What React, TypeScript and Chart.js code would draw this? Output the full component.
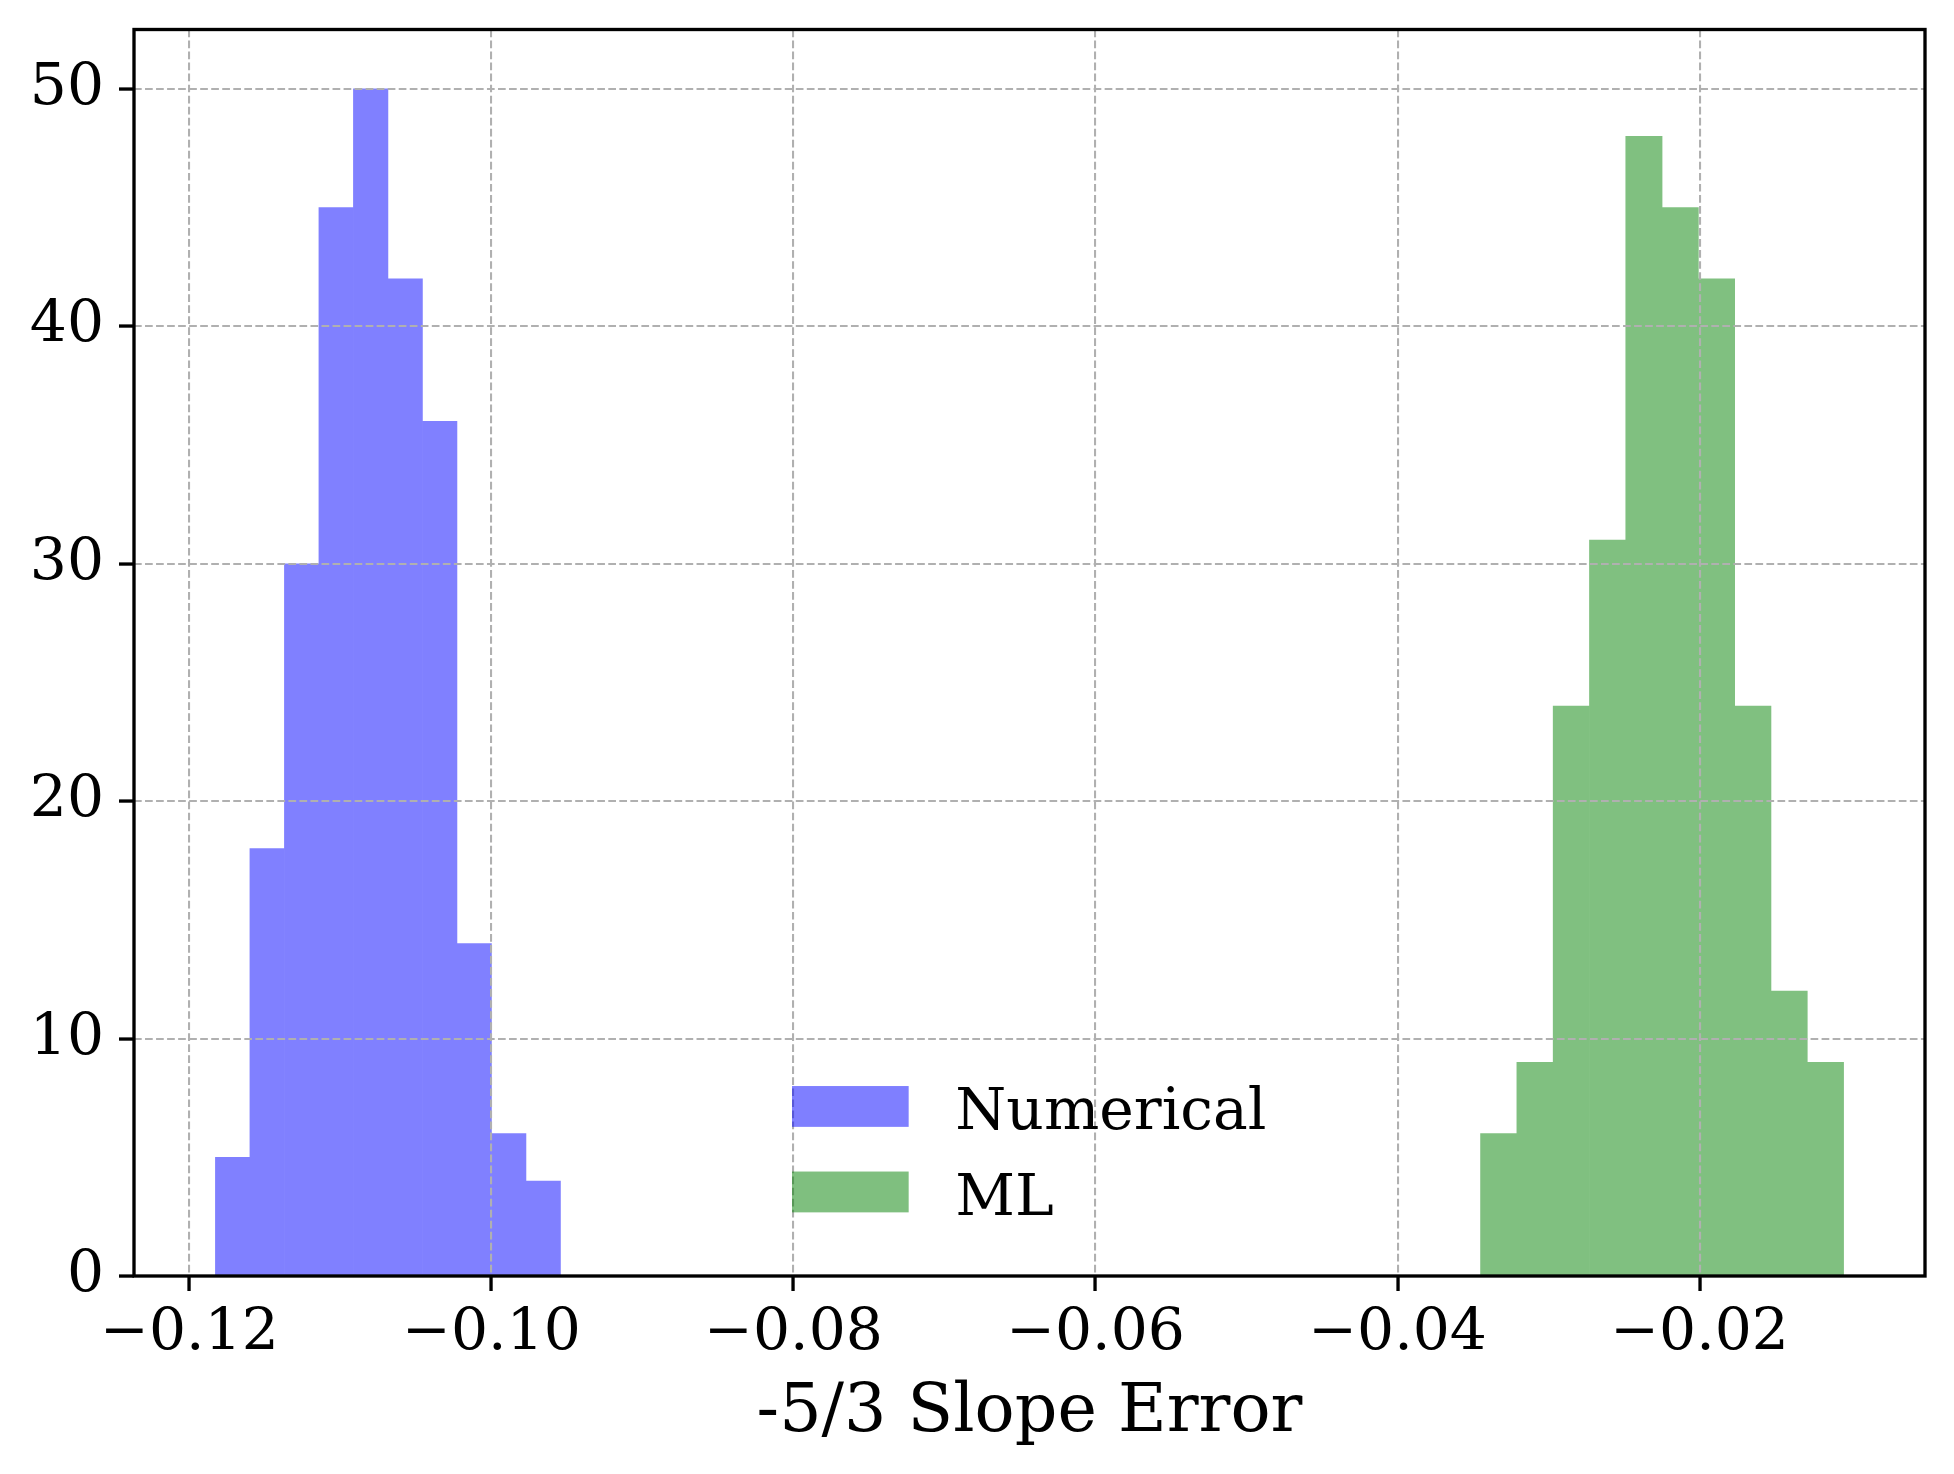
import { useEffect, useRef } from "react";
import { Chart, registerables, type ChartConfiguration, type Plugin } from "chart.js";

Chart.register(...registerables);

// Bin edges and counts.
const numericalEdges = [
  -0.118278, -0.115993, -0.113708, -0.111424, -0.109139, -0.106854,
  -0.104569, -0.102284, -0.1, -0.097715, -0.09543,
];
const numericalCounts = [5, 18, 30, 45, 50, 42, 36, 14, 6, 4];

const mlEdges = [
  -0.034503, -0.032099, -0.029695, -0.027291, -0.024887, -0.022484,
  -0.02008, -0.017676, -0.015272, -0.012868, -0.010464,
];
const mlCounts = [6, 9, 24, 31, 48, 45, 42, 24, 12, 9];

const seriesLabels = ["Numerical", "ML"];
const xRange = [-0.123669, -0.005073];
const yRange = [0, 52.5];
const xTickStep = 0.02;
const yTickStep = 10;
const xTitle = "-5/3 Slope Error";

const W = 1954;
const H = 1474;
const FONT = '"DejaVu Serif", "Liberation Serif", serif';
const TICK_FS = 58.33;
const TITLE_FS = 66.67;

// blue / green at alpha 0.5 over white; bars are drawn flat so adjacent
// bins show no antialiasing seams, the legend keeps the translucent version
const barColors = ["#8080ff", "#80c080"];
const legendColors = ["rgba(0, 0, 255, 0.5)", "rgba(0, 128, 0, 0.5)"];

function toBars(edges: number[], counts: number[]) {
  return counts.map((c, i) => ({ x: (edges[i] + edges[i + 1]) / 2, y: c }));
}

function fmtX(v: number) {
  return (v < 0 ? "\u2212" : "") + Math.abs(v).toFixed(2);
}

// four spines on top, like matplotlib
const spinesPlugin: Plugin<"bar"> = {
  id: "spines",
  afterDraw(chart) {
    const { ctx, chartArea: a } = chart;
    ctx.save();
    ctx.strokeStyle = "#000";
    ctx.lineWidth = 3.33;
    ctx.lineJoin = "miter";
    ctx.strokeRect(a.left, a.top, a.right - a.left, a.bottom - a.top);
    ctx.restore();
  },
};

// frameless legend sitting inside the axes
const legendPlugin: Plugin<"bar"> = {
  id: "innerLegend",
  afterDraw(chart) {
    const { ctx, chartArea: a } = chart;
    const x0 = a.left + 0.3674 * (a.right - a.left);
    let y = a.top + 0.8476 * (a.bottom - a.top);
    ctx.save();
    ctx.font = `${TICK_FS}px ${FONT}`;
    ctx.textBaseline = "alphabetic";
    ctx.textAlign = "left";
    chart.data.datasets.forEach((ds, i) => {
      ctx.fillStyle = legendColors[i];
      ctx.fillRect(x0, y, 2 * TICK_FS, 0.7 * TICK_FS);
      ctx.fillStyle = "#000";
      ctx.fillText(String(ds.label), x0 + 2.8 * TICK_FS, y + 43);
      y += 85.5;
    });
    ctx.restore();
  },
};

const hiddenX = {
  type: "linear" as const,
  display: false,
  min: xRange[0],
  max: xRange[1],
  offset: false,
  grid: { offset: false },
};

export default function App() {
  const canvasRef = useRef<HTMLCanvasElement>(null);

  useEffect(() => {
    document.body.style.margin = "0";
    const canvas = canvasRef.current;
    if (!canvas) return;
    Chart.defaults.font.family = FONT;
    Chart.defaults.color = "#000";

    const gridCommon = {
      color: "#b0b0b0",
      lineWidth: 2.08,
      z: 1,
      drawTicks: true,
      tickLength: 15,
      tickWidth: 3.33,
      tickColor: "#000",
      offset: false,
    };

    const config: ChartConfiguration<"bar"> = {
      type: "bar",
      data: {
        datasets: [
          {
            label: seriesLabels[0],
            data: toBars(numericalEdges, numericalCounts) as any,
            backgroundColor: barColors[0],
            xAxisID: "x",
          },
          {
            label: seriesLabels[1],
            data: toBars(mlEdges, mlCounts) as any,
            backgroundColor: barColors[1],
            xAxisID: "x2",
          },
        ],
      },
      options: {
        responsive: false,
        animation: false,
        events: [],
        layout: { padding: { left: 0, top: 29.5, right: 29, bottom: 0 } },
        datasets: {
          bar: {
            barPercentage: 1,
            categoryPercentage: 1,
            borderWidth: 0,
            grouped: false,
          },
        },
        plugins: {
          legend: { display: false },
          tooltip: { enabled: false },
        },
        scales: {
          x: {
            type: "linear",
            position: "bottom",
            min: xRange[0],
            max: xRange[1],
            offset: false,
            grid: gridCommon,
            border: { display: false, dash: [7.7, 3.33] },
            ticks: {
              stepSize: xTickStep,
              includeBounds: false,
              autoSkip: false,
              maxRotation: 0,
              padding: 8,
              font: { size: TICK_FS, family: FONT },
              color: "#000",
              callback: (v) => fmtX(Number(v)),
            },
            title: {
              display: true,
              text: xTitle,
              color: "#000",
              font: { size: TITLE_FS, family: FONT },
              padding: { top: 0, bottom: 20 },
            },
            afterFit: (s) => {
              s.height = H - 1276;
              s.paddingLeft = 0;
              s.paddingRight = 0;
            },
          },
          x2: hiddenX,
          y: {
            type: "linear",
            position: "left",
            min: yRange[0],
            max: yRange[1],
            grid: gridCommon,
            border: { display: false, dash: [7.7, 3.33] },
            ticks: {
              stepSize: yTickStep,
              includeBounds: false,
              padding: 15,
              font: { size: TICK_FS, family: FONT },
              color: "#000",
            },
            afterFit: (s) => {
              s.width = 134;
              s.paddingTop = 0;
              s.paddingBottom = 0;
            },
          },
        },
      },
      plugins: [spinesPlugin, legendPlugin],
    };

    const chart = new Chart(canvas, config);
    return () => {
      chart.destroy();
    };
  }, []);

  return (
    <div style={{ width: W, height: H, background: "#fff" }}>
      <canvas ref={canvasRef} width={W} height={H} style={{ display: "block" }}></canvas>
    </div>
  );
}
